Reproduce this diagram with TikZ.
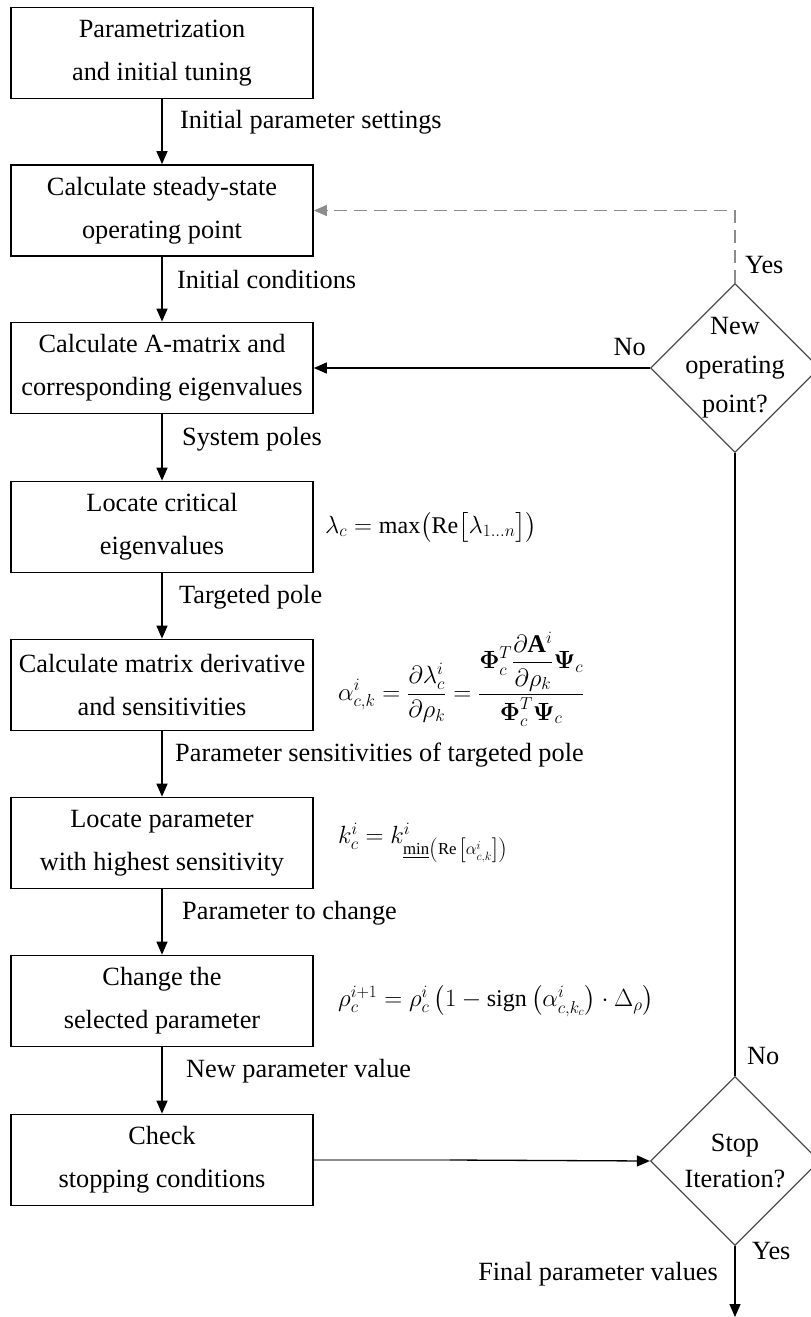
\documentclass[tikz,border=0pt]{standalone}
\usepackage{amsmath,bm}
\usepackage{fontspec}
\setmainfont{Liberation Serif}
\usetikzlibrary{arrows.meta,shapes.geometric}
\begin{document}
\begin{tikzpicture}[x=1pt,y=-1pt,
  box/.style={draw, line width=1.7pt, minimum width=302pt, minimum height=91pt, inner sep=0pt, align=center, font=\fontsize{26.3}{43}\selectfont},
  dec/.style={diamond, draw=black!70, line width=1.2pt, minimum width=169pt, minimum height=169pt, inner sep=0pt},
  dectext/.style={align=center, inner sep=0pt, font=\fontsize{26.3}{39}\selectfont},
  lbl/.style={font=\fontsize{26.3}{30}\selectfont, inner sep=0pt, text height=0.7em, text depth=0.2em},
  flow/.style={line width=1.3pt, -{Triangle[width=11pt,length=13pt]}},
  frm/.style={anchor=west, inner sep=0pt, font=\fontsize{24}{28}\selectfont}
]
\useasboundingbox (0,0) rectangle (811,1317);
\clip (0,0) rectangle (811,1317);

% boxes
\node[box] (b1) at (162,53) {Parametrization\\and initial tuning};
\node[box] (b2) at (162,210.5) {Calculate steady-state\\operating point};
\node[box] (b3) at (162,368) {Calculate A-matrix and\\corresponding eigenvalues};
\node[box] (b4) at (162,527) {Locate critical\\eigenvalues};
\node[box] (b5) at (162,685) {Calculate matrix derivative\\and sensitivities};
\node[box] (b6) at (162,843) {Locate parameter\\with highest sensitivity};
\node[box] (b7) at (162,1001) {Change the\\selected parameter};
\node[box] (b8) at (162,1160) {Check\\stopping conditions};

% decisions
\node[dec] (d1) at (735,368) {};
\node[dectext] (d1t) at (735,368) {New\\operating\\point?};
\node[dec] (d2) at (735,1161) {};
\node[dectext, font=\fontsize{26.3}{36}\selectfont] (d2t) at (735,1161) {Stop\\Iteration?};

% formulas
\node[frm] (f1) at (325,527) {$\lambda_c = \max\bigl(\mathrm{Re}\bigl[\lambda_{1\ldots n}\bigr]\bigr)$};
\node[frm, font=\fontsize{25.5}{30}\selectfont] (f2) at (338,679) {$\displaystyle \alpha^{i}_{c,k}=\frac{\partial\lambda^{i}_{c}}{\partial\rho_k}=\frac{\bm{\Phi}^{T}_{c}\dfrac{\partial\mathbf{A}^{i}}{\partial\rho_k}\bm{\Psi}_{c}}{\bm{\Phi}^{T}_{c}\bm{\Psi}_{c}}$};
\node[frm] (f3) at (338,843) {$k^{i}_{c}=k^{i}_{\underline{\mathrm{min}}\left(\mathrm{Re}\,\left[\alpha^{i}_{c,k}\right]\right)}$};
\node[frm] (f4) at (338,1001) {$\rho^{i+1}_{c}=\rho^{i}_{c}\left(1-\mathrm{sign}\left(\alpha^{i}_{c,k_c}\right)\cdot\Delta_{\rho}\right)$};

% main flow
\draw[flow] (b1.south) -- (b2.north);
\draw[flow] (b2.south) -- (b3.north);
\draw[flow] (b3.south) -- (b4.north);
\draw[flow] (b4.south) -- (b5.north);
\draw[flow] (b5.south) -- (b6.north);
\draw[flow] (b6.south) -- (b7.north);
\draw[flow] (b7.south) -- (b8.north);

\node[lbl, anchor=west] (l1) at (180,126) {Initial parameter settings};
\node[lbl, anchor=west] (l2) at (177,286) {Initial conditions};
\node[lbl, anchor=west] (l3) at (182,443) {System poles};
\node[lbl, anchor=west] (l4) at (179,601) {Targeted pole};
\node[lbl, anchor=west] (l5) at (175,759) {Parameter sensitivities of targeted pole};
\node[lbl, anchor=west] (l6) at (182,917) {Parameter to change};
\node[lbl, anchor=west] (l7) at (186,1075) {New parameter value};

% decision connectors
\draw[flow] (d1.west) -- (b3.east);
\draw[flow, color=black!45, dash pattern=on 13pt off 7pt] (d1.north) |- (b2.east);
\draw[line width=1.3pt] (d2.north) -- (d1.south);
\coordinate (m8) at (450,1160);
\draw[line width=1.5pt, black!45] (b8.east) -- (m8);
\draw[flow] (m8) -- (d2.west);
\coordinate (fin) at (735,1317);
\draw[flow] (d2.south) -- (fin);

\node[lbl, anchor=west] (y1) at (745,271) {Yes};
\node[lbl, anchor=east] (n1) at (646,353) {No};
\node[lbl, anchor=west] (n2) at (747,1062) {No};
\node[lbl, anchor=west] (y2) at (752,1257) {Yes};
\node[lbl, anchor=east] (fv) at (718,1278) {Final parameter values};
\end{tikzpicture}
\end{document}
